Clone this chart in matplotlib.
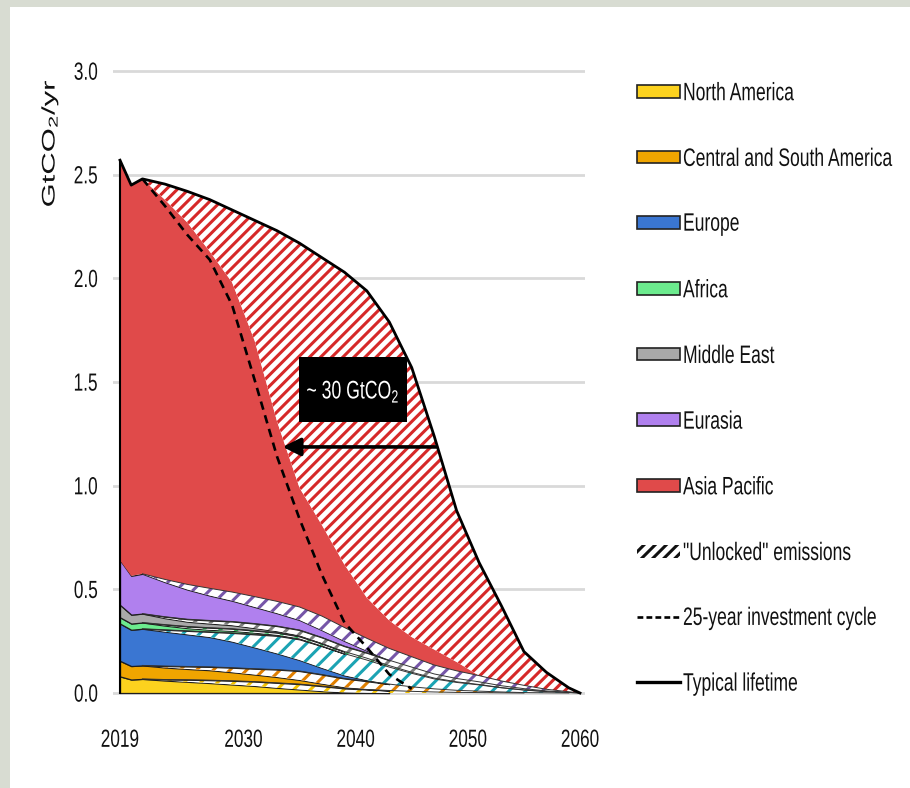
import numpy as np
import matplotlib
matplotlib.use("Agg")
import matplotlib.pyplot as plt
from matplotlib.patches import Rectangle, Patch
from matplotlib.lines import Line2D
from matplotlib import patheffects
from matplotlib.transforms import Affine2D

plt.rcParams["font.family"] = ["Liberation Sans", "DejaVu Sans"]
plt.rcParams["mathtext.fontset"] = "custom"
plt.rcParams["mathtext.rm"] = "Liberation Sans"
plt.rcParams["hatch.linewidth"] = 2.2

# ---------------------------------------------------------------- data (GtCO2/yr)
years = [2019, 2020, 2021, 2023, 2025, 2027, 2029, 2031, 2033, 2035, 2037, 2039,
         2041, 2043, 2045, 2047, 2049, 2051, 2053, 2055, 2057, 2059, 2060]

regions = ["North America", "Central and South America", "Europe", "Africa",
           "Middle East", "Eurasia", "Asia Pacific"]

# emissions within a 25-year investment cycle (solid) by region
na_locked = [.08, .065, .068, .060, .054, .048, .041, .034, .025, .017, .009, .003,
             .001, 0, 0, 0, 0, 0, 0, 0, 0, 0, 0]
csa_locked = [.075, .065, .065, .058, .052, .048, .041, .034, .028, .020, .012, .006,
              .002, 0, 0, 0, 0, 0, 0, 0, 0, 0, 0]
eu_locked = [.18, .175, .177, .166, .155, .144, .126, .103, .078, .053, .032, .015,
             .005, 0, 0, 0, 0, 0, 0, 0, 0, 0, 0]
af_locked = [.03, .03, .03, .02, .013, .01, .01, .008, .005, .004, .002, 0,
             0, 0, 0, 0, 0, 0, 0, 0, 0, 0, 0]
me_locked = [.06, .043, .043, .031, .023, .02, .017, .012, .007, .005, .003, 0,
             0, 0, 0, 0, 0, 0, 0, 0, 0, 0, 0]
eur_locked = [.215, .187, .192, .167, .143, .12, .10, .08, .062, .048, .035, .025,
              .010, 0, 0, 0, 0, 0, 0, 0, 0, 0, 0]
ap_locked = [1.93, 1.885, 1.905, 1.832, 1.746, 1.625, 1.493, 1.235, .868, .575, .439, .304,
             .196, .135, .095, .075, .043, 0, 0, 0, 0, 0, 0]

# additional "unlocked" emissions up to typical lifetime, by region
na_unlocked = [0, 0, 0, .005, .010, .014, .018, .021, .024, .026, .024, .019,
               .016, .012, .008, .005, .003, .002, .001, 0, 0, 0, 0]
csa_unlocked = [0, 0, 0, .007, .012, .016, .022, .028, .036, .043, .044, .042,
                .038, .031, .022, .015, .010, .007, .004, .002, .001, 0, 0]
eu_unlocked = [0, 0, 0, .009, .017, .025, .042, .063, .085, .100, .105, .105,
               .097, .082, .065, .048, .038, .030, .020, .012, .006, .002, 0]
af_unlocked = [0, 0, 0, .005, .008, .01, .01, .01, .01, .01, .01, .01,
               .009, .007, .005, .004, .003, .002, .001, .001, 0, 0, 0]
me_unlocked = [0, 0, 0, .007, .012, .015, .018, .022, .025, .026, .027, .026,
               .026, .026, .025, .020, .016, .013, .009, .006, .003, .001, 0]
eur_unlocked = [0, 0, 0, .013, .025, .035, .042, .05, .057, .063, .068, .065,
                .060, .057, .050, .043, .037, .030, .023, .016, .008, .003, 0]
ap_unlocked = [0, 0, 0, .075, .15, .25, .35, .58, .92, 1.18, 1.29, 1.41,
               1.48, 1.44, 1.30, 1.03, .73, .546, .362, .163, .082, .019, 0]

# total emissions under a 25-year investment cycle
investment_cycle_25yr = [np.nan, np.nan, 2.48, 2.35, 2.21, 2.09, 1.87, 1.51, 1.14, .84, .57, .34,
                         .22, .09, .02, np.nan, np.nan, np.nan, np.nan, np.nan, np.nan,
                         np.nan, np.nan]

ytick_labels = ["0.0", "0.5", "1.0", "1.5", "2.0", "2.5", "3.0"]
xticks = [2019, 2030, 2040, 2050, 2060]

# ---------------------------------------------------------------- styling
fill_colors = ["#FCD21E", "#F0A500", "#3A76D2", "#6CEB8E", "#A9A9A9", "#B080EE", "#E04A4A"]
hatch_colors = ["#F2C200", "#E07F00", "#1BA3B3", "#2DBA5A", "#7E7E7E", "#7656A8", "#D62828"]
TEXT_STRETCH = 1.44   # tall, condensed lettering


class Stretch(patheffects.AbstractPathEffect):
    """Draw text scaled horizontally/vertically around an anchor."""

    def __init__(self, sx=1.0, sy=1.0, anchor="center"):
        super().__init__()
        self.sx, self.sy, self.anchor = sx, sy, anchor

    def draw_path(self, renderer, gc, tpath, affine, rgbFace=None):
        bb = tpath.get_extents(affine)
        if self.anchor == "left":
            cx = bb.x0
        elif self.anchor == "right":
            cx = bb.x1
        else:
            cx = 0.5 * (bb.x0 + bb.x1)
        cy = 0.5 * (bb.y0 + bb.y1)
        t = affine + Affine2D().translate(-cx, -cy).scale(self.sx, self.sy).translate(cx, cy)
        renderer.draw_path(gc, tpath, t, rgbFace)


W, H = 910, 788
fig = plt.figure(figsize=(W / 100, H / 100), dpi=100)
fig.patch.set_facecolor("#D8DCD2")
fig.add_artist(Rectangle((10 / W, 0), 1 - 10 / W, 1 - 7 / H, transform=fig.transFigure,
                         facecolor="white", edgecolor="none", zorder=0))

px_per_year = 11.22
px_per_unit = 207.3
x0, x1 = 2019 - 7 / px_per_year, 2060 + 5 / px_per_year
y0, y1 = -0.015, 3.05
ax_left, ax_right = 113 / W, 585 / W
ax_bottom = 1 - (693 + (0 - y0) * px_per_unit) / H
ax_top = 1 - (693 - y1 * px_per_unit) / H
ax = fig.add_axes([ax_left, ax_bottom, ax_right - ax_left, ax_top - ax_bottom])
ax.set_facecolor("none")
ax.set_xlim(x0, x1)
ax.set_ylim(y0, y1)

yrs = np.array(years, dtype=float)
locked = [na_locked, csa_locked, eu_locked, af_locked, me_locked, eur_locked, ap_locked]
unlocked = [na_unlocked, csa_unlocked, eu_unlocked, af_unlocked, me_unlocked, eur_unlocked,
            ap_unlocked]


def span_mask(v):
    m = np.asarray(v) > 0
    out = m.copy()
    out[1:] |= m[:-1]
    out[:-1] |= m[1:]
    return out


base = np.zeros(len(years))
for i, name in enumerate(regions):
    s = np.asarray(locked[i], dtype=float)
    u = np.asarray(unlocked[i], dtype=float)
    is_ap = name == "Asia Pacific"
    top = base + s
    ax.fill_between(yrs, base, top, where=span_mask(s), facecolor=fill_colors[i],
                    edgecolor="none" if is_ap else "#1E1E1E",
                    linewidth=0 if is_ap else 0.9, zorder=2)
    base = top
    top = base + u
    ax.fill_between(yrs, base, top, where=span_mask(u), facecolor="white",
                    edgecolor=hatch_colors[i], hatch="///" if is_ap else "//",
                    linewidth=0, zorder=2)
    if not is_ap:
        m = span_mask(u)
        ax.plot(yrs[m], top[m], color="#333333", lw=0.7, zorder=2.5)
    base = top

total = base
ax.plot(yrs, total, color="black", lw=2.0, zorder=3, solid_joinstyle="round")
ax.plot([2019, 2019], [0, total[0]], color="black", lw=1.5, zorder=3)
ax.plot(yrs, investment_cycle_25yr, color="black", lw=1.9, linestyle=(0, (3.2, 2.2)), zorder=3)

# annotation: gap between the two lifetimes
ax.add_patch(Rectangle((2034.95, 1.307), 9.63, 0.314, facecolor="black",
                       edgecolor="none", zorder=5))
t = ax.text(2039.77, 1.455, "~ 30 GtCO$_\\mathregular{2}$", color="white", fontsize=12.7,
            ha="center", va="center", zorder=6)
t.set_path_effects([Stretch(1.0, TEXT_STRETCH, "center")])
ax.annotate("", xy=(2033.5, 1.187), xytext=(2047.2, 1.187), zorder=5,
            arrowprops=dict(arrowstyle="-|>,head_length=0.9,head_width=0.45", color="black",
                            lw=2.6, shrinkA=0, shrinkB=0, mutation_scale=12))

# axes cosmetics
for sp in ax.spines.values():
    sp.set_visible(False)
ax.set_yticks(np.arange(0, 3.01, 0.5), ytick_labels)
ax.set_xticks(xticks, [str(v) for v in xticks])
ax.grid(axis="y", color="#D9D9D9", lw=2.0)
ax.set_axisbelow(True)
ax.tick_params(axis="both", length=0, labelsize=12.4, colors="#111111")
ax.tick_params(axis="x", pad=26)
ax.tick_params(axis="y", pad=11)
for lbl in ax.get_yticklabels():
    lbl.set_path_effects([Stretch(1.0, TEXT_STRETCH, "right")])
for lbl in ax.get_xticklabels():
    lbl.set_path_effects([Stretch(1.0, TEXT_STRETCH, "center")])

yl = fig.text(50 / W, 1 - 143 / H, "GtCO$_\\mathregular{2}$/yr", rotation=90, fontsize=15.5,
              ha="center", va="center", color="#111111")
yl.set_path_effects([Stretch(0.85, TEXT_STRETCH, "center")])

# legend
handles = [Patch(facecolor=c, edgecolor="#222222", lw=1.2) for c in fill_colors]
handles.append(Patch(facecolor="white", edgecolor="#111111", hatch="///", lw=0))
handles.append(Line2D([], [], color="black", lw=1.9, linestyle=(0, (2.2, 1.2))))
handles.append(Line2D([], [], color="black", lw=2.4))
labels = regions + ['"Unlocked" emissions', "25-year investment cycle", "Typical lifetime"]
leg = ax.legend(handles, labels, loc="upper left", bbox_to_anchor=(637 / W, 1 - 85 / H),
                bbox_transform=fig.transFigure, frameon=False, fontsize=12.6,
                handlelength=2.46, handleheight=0.74, handletextpad=0.17,
                labelspacing=2.87, borderpad=0, borderaxespad=0)
for txt in leg.get_texts():
    txt.set_color("#111111")
    txt.set_path_effects([Stretch(1.0, TEXT_STRETCH, "left")])

fig.savefig("out.png", dpi=100, facecolor=fig.get_facecolor())
